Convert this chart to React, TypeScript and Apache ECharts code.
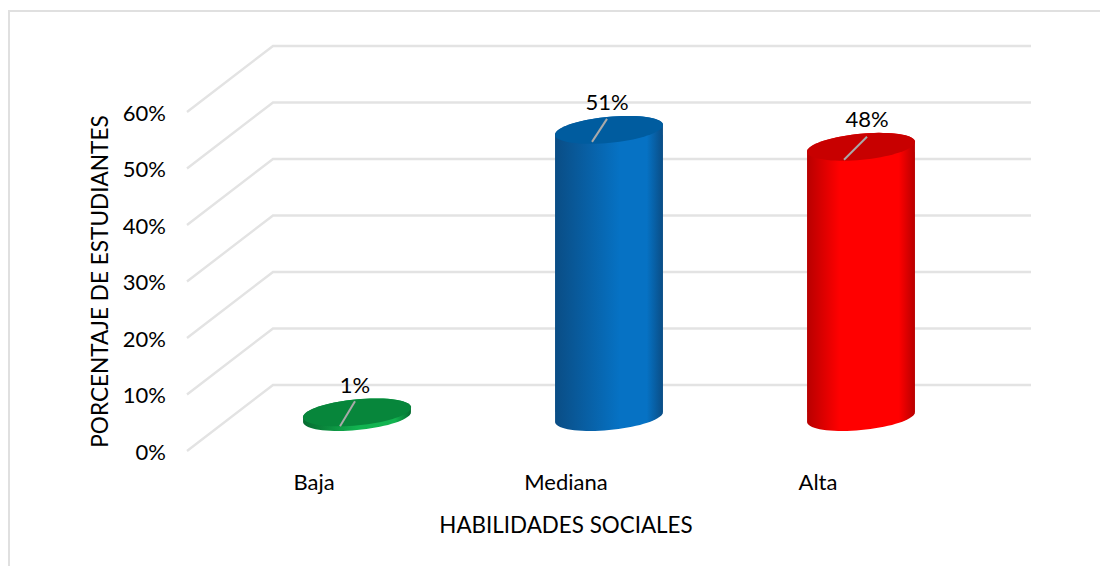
import React, { useEffect, useRef } from "react";
import * as echarts from "echarts";

const categories = ["Baja", "Mediana", "Alta"];
const percentages = [1, 51, 48];
const tickValues = [0, 10, 20, 30, 40, 50, 60];
const barColors = [
  { edge: "#056b30", mid: "#12b350", cap: "#07863b", peak: 0.5 },
  { edge: "#0a4d85", mid: "#0672c4", cap: "#005c9f", peak: 0.6 },
  { edge: "#b80000", mid: "#ff0000", cap: "#c80000", peak: 0.3 },
];
const labelNudges = [
  { lx: -2, ly: -28, sx: -17, sy: 14, ex: -2, ey: -11 },
  { lx: -2, ly: -28, sx: -17, sy: 12, ex: -2, ey: -11 },
  { lx: 6, ly: -28, sx: -17, sy: 13, ex: 6, ey: -10 },
];

const FONT = "Lato";
const DEPTH_X = 86;
const DEPTH_Y = 66;
const RX = 54.2;
const RY = 13;
const TILT = (-5.5 * Math.PI) / 180;

function ellipsePoint(cx: number, cy: number, t: number) {
  const x = RX * Math.cos(t);
  const y = RY * Math.sin(t);
  return [cx + x * Math.cos(TILT) - y * Math.sin(TILT), cy + x * Math.sin(TILT) + y * Math.cos(TILT)];
}

function ellipsePoints(cx: number, cy: number) {
  const out: number[][] = [];
  for (let i = 0; i < 72; i++) out.push(ellipsePoint(cx, cy, (i / 72) * 2 * Math.PI));
  return out;
}

function bodyPoints(cx: number, topY: number, baseY: number) {
  const t0 = Math.atan2(-RY * Math.sin(TILT), RX * Math.cos(TILT));
  const out: number[][] = [];
  for (let i = 0; i <= 36; i++) out.push(ellipsePoint(cx, baseY - 1, t0 + (i / 36) * Math.PI));
  for (let i = 0; i <= 36; i++) out.push(ellipsePoint(cx, topY, t0 + Math.PI + (i / 36) * Math.PI));
  return out;
}

function renderFloor(params: any, api: any) {
  const v = api.value(0);
  const y = api.coord([0, v])[1];
  const cs = params.coordSys;
  const x0 = cs.x - 1;
  const x1 = cs.x + DEPTH_X - 1;
  const x2 = cs.x + cs.width + DEPTH_X + 1;
  return {
    type: "group",
    silent: true,
    children: [
      {
        type: "polyline",
        shape: { points: [[x0, y], [x1, y - DEPTH_Y], [x2, y - DEPTH_Y]] },
        style: { stroke: "#e3e3e3", lineWidth: 2.4, fill: "none" },
      },
    ],
  };
}

function renderCylinder(params: any, api: any) {
  const i = params.dataIndex;
  const idx = api.value(0);
  const val = api.value(1);
  const top = api.coord([idx, val]);
  const base = api.coord([idx, 0]);
  const cx = top[0] + DEPTH_X / 2;
  const topY = top[1] - DEPTH_Y / 2;
  const baseY = base[1] - DEPTH_Y / 2;
  const c = barColors[i];
  const n = labelNudges[i];
  const bodyFill = new echarts.graphic.LinearGradient(0, 0, 1, 0, [
    { offset: 0, color: c.edge },
    { offset: c.peak, color: c.mid },
    { offset: 0.85, color: c.mid },
    { offset: 1, color: c.edge },
  ]);
  return {
    type: "group",
    children: [
      { type: "polygon", shape: { points: bodyPoints(cx, topY, baseY) }, style: { fill: bodyFill } },
      { type: "polygon", shape: { points: ellipsePoints(cx, topY) }, style: { fill: c.cap } },
      {
        type: "line",
        shape: { x1: cx + n.sx, y1: topY + n.sy, x2: cx + n.ex, y2: topY + n.ey },
        style: { stroke: "#a9a9a9", lineWidth: 2 },
      },
      {
        type: "text",
        x: cx + n.lx,
        y: topY + n.ly,
        style: {
          text: `${val}%`,
          fill: "#000000",
          font: `22px ${FONT}`,
          align: "center",
          verticalAlign: "middle",
        },
      },
    ],
  };
}

export default function App() {
  const ref = useRef<HTMLDivElement>(null);
  useEffect(() => {
    document.body.style.margin = "0";
    const chart = echarts.init(ref.current!, undefined, { renderer: "svg" });
    chart.setOption({
      animation: false,
      backgroundColor: "#ffffff",
      textStyle: { fontFamily: FONT },
      grid: { left: 188, right: 156, top: 112, bottom: 115, containLabel: false },
      graphic: [
        {
          type: "polyline",
          silent: true,
          shape: { points: [[9, 566], [9, 11], [1100, 11]] },
          style: { stroke: "#e0e0e0", lineWidth: 2, fill: "none" },
        },
      ],
      xAxis: {
        type: "category",
        data: categories,
        name: "HABILIDADES SOCIALES",
        nameLocation: "middle",
        nameGap: 62,
        nameTextStyle: { fontFamily: FONT, fontSize: 22.4, color: "#000000" },
        axisLine: { show: false },
        axisTick: { show: false },
        axisLabel: { fontFamily: FONT, fontSize: 22, color: "#000000", margin: 19 },
      },
      yAxis: {
        type: "value",
        min: 0,
        max: 60,
        interval: 10,
        name: "PORCENTAJE DE ESTUDIANTES",
        nameLocation: "middle",
        nameGap: 77,
        nameRotate: 90,
        nameTextStyle: { fontFamily: FONT, fontSize: 22.6, color: "#000000" },
        axisLine: { show: false },
        axisTick: { show: false },
        splitLine: { show: false },
        axisLabel: { fontFamily: FONT, fontSize: 22, color: "#000000", margin: 22, formatter: "{value}%" },
      },
      series: [
        { type: "custom", renderItem: renderFloor, data: tickValues.map((v) => [v]), encode: { y: 0 }, z: 1, silent: true, clip: false },
        {
          type: "custom",
          renderItem: renderCylinder,
          data: percentages.map((v, i) => [i, v]),
          encode: { x: 0, y: 1 },
          z: 2,
          clip: false,
        },
      ],
    });
    return () => chart.dispose();
  }, []);
  return <div ref={ref} style={{ width: 1100, height: 566 }} />;
}
